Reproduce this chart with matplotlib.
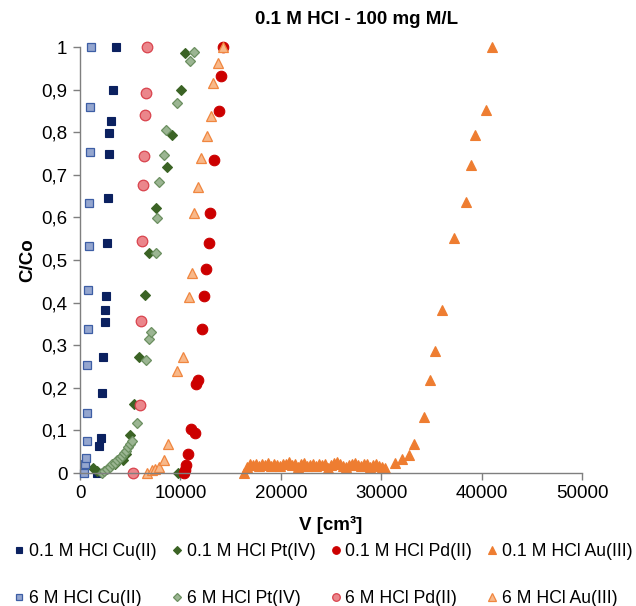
import matplotlib
matplotlib.use("Agg")
import matplotlib.pyplot as plt
from matplotlib.lines import Line2D

plt.rcParams['font.family'] = ['Liberation Sans', 'DejaVu Sans']

# ---------------- data ----------------
v_cu_01 = [1660, 1920, 2050, 2220, 2320, 2450, 2450, 2550, 2650, 2750, 2920, 2920, 3050, 3250, 3580]
c_cu_01 = [0, 0.063, 0.081, 0.187, 0.272, 0.355, 0.383, 0.415, 0.541, 0.646, 0.749, 0.797, 0.827, 0.90, 1.0]

v_pt_01 = [1330, 1700, 3500, 4300, 4600, 4950, 5400, 5900, 6490, 6890, 7550, 8710, 9210, 9770, 10040, 10440]
c_pt_01 = [0.011, 0.005, 0.022, 0.03, 0.045, 0.089, 0.161, 0.273, 0.417, 0.517, 0.621, 0.718, 0.793, 0.0, 0.90, 0.987]

v_pd_01 = [10370, 10440, 10600, 10770, 11100, 11450, 11600, 11770, 12160, 12330, 12590, 12820, 12990, 13320, 13850, 14080, 14250]
c_pd_01 = [0, 0.007, 0.019, 0.045, 0.104, 0.094, 0.21, 0.219, 0.338, 0.415, 0.48, 0.54, 0.61, 0.735, 0.85, 0.933, 1.0]

v_au_01 = [16330, 16600, 16900, 17200, 17500, 17800, 18100, 18400, 18700, 19000, 19300, 19600, 19900,
           20200, 20500, 20800, 21100, 21400, 21700, 22000, 22300, 22600, 22900, 23200, 23500, 23800,
           24100, 24400, 24700, 25000, 25300, 25600, 25900, 26200, 26500, 26800, 27100, 27400, 27700,
           28000, 28300, 28600, 28900, 29200, 29500, 29800, 30100, 30400,
           31400, 32080, 32800, 33300, 34230, 34890, 35390, 36050, 37270, 38440, 38970, 39370, 40460, 41080]
c_au_01 = [0.0, 0.015, 0.02, 0.018, 0.022, 0.016, 0.02, 0.019, 0.024, 0.017, 0.021, 0.018, 0.016,
           0.022, 0.02, 0.025, 0.018, 0.021, 0.015, 0.02, 0.023, 0.017, 0.019, 0.022, 0.016, 0.02,
           0.018, 0.021, 0.012, 0.019, 0.023, 0.026, 0.02, 0.017, 0.015, 0.019, 0.021, 0.024, 0.018,
           0.016, 0.02, 0.022, 0.014, 0.019, 0.021, 0.017, 0.015, 0.012,
           0.023, 0.032, 0.042, 0.068, 0.132, 0.218, 0.287, 0.383, 0.551, 0.637, 0.723, 0.793, 0.852, 1.0]

v_cu_6 = [400, 500, 600, 660, 660, 730, 830, 830, 930, 930, 1000, 1000, 1060]
c_cu_6 = [0, 0.02, 0.035, 0.076, 0.14, 0.253, 0.337, 0.43, 0.534, 0.633, 0.754, 0.86, 1.0]

v_pt_6 = [2150, 2400, 2700, 2950, 3200, 3450, 3700, 3950, 4150, 4350, 4550, 4750, 4950, 5150, 5700,
          5960, 6560, 6890, 7060, 7520, 7690, 7850, 8350, 8610, 9710, 11000, 11360]
c_pt_6 = [0.0, 0.005, 0.01, 0.015, 0.02, 0.024, 0.03, 0.035, 0.04, 0.047, 0.052, 0.06, 0.068, 0.076, 0.117,
          0.16, 0.265, 0.314, 0.332, 0.517, 0.598, 0.684, 0.746, 0.805, 0.868, 0.968, 0.988]

v_pd_6 = [5300, 5960, 6030, 6130, 6230, 6360, 6460, 6560, 6630]
c_pd_6 = [0, 0.16, 0.357, 0.545, 0.676, 0.744, 0.84, 0.893, 1.0]

v_au_6 = [6700, 7130, 7450, 7890, 8380, 8800, 9670, 10230, 10870, 11200, 11400, 11730, 12030, 12660, 13090, 13250, 13750, 14250]
c_au_6 = [0, 0.007, 0.01, 0.015, 0.03, 0.067, 0.24, 0.273, 0.412, 0.469, 0.61, 0.672, 0.74, 0.791, 0.838, 0.916, 0.962, 1.0]

labels = ["0.1 M HCl Cu(II)", "0.1 M HCl Pt(IV)", "0.1 M HCl Pd(II)", "0.1 M HCl Au(III)",
          "6 M HCl Cu(II)", "6 M HCl Pt(IV)", "6 M HCl Pd(II)", "6 M HCl Au(III)"]
y_ticks = [0, 0.1, 0.2, 0.3, 0.4, 0.5, 0.6, 0.7, 0.8, 0.9, 1.0]
y_tick_labels = ["0", "0,1", "0,2", "0,3", "0,4", "0,5", "0,6", "0,7", "0,8", "0,9", "1"]
x_ticks = [0, 10000, 20000, 30000, 40000, 50000]

# ---------------- styles ----------------
series = [
    (v_cu_01, c_cu_01, dict(marker='s', ms=6.2, mfc='#0b2160', mec='#0b2160', mew=0.8)),
    (v_pt_01, c_pt_01, dict(marker='D', ms=5.4, mfc='#3b6325', mec='#3b6325', mew=0.8)),
    (v_pd_01, c_pd_01, dict(marker='o', ms=7.6, mfc='#cc0000', mec='#cc0000', mew=0.8)),
    (v_au_01, c_au_01, dict(marker='^', ms=7.8, mfc='#ee7d31', mec='#ee7d31', mew=0.8)),
    (v_cu_6, c_cu_6, dict(marker='s', ms=6.2, mfc='#94a6cf', mec='#3d5ea5', mew=0.9)),
    (v_pt_6, c_pt_6, dict(marker='D', ms=5.4, mfc='#9bb592', mec='#6b8f60', mew=0.9)),
    (v_pd_6, c_pd_6, dict(marker='o', ms=7.6, mfc='#eb868b', mec='#d9434d', mew=0.9)),
    (v_au_6, c_au_6, dict(marker='^', ms=7.8, mfc='#f8b889', mec='#f0863f', mew=0.9)),
]

fig = plt.figure(figsize=(6.36, 6.06), dpi=100)
ax = fig.add_axes([80 / 636, 1 - 473 / 606, (582 - 80) / 636, (473 - 47) / 606])

for v, c, st in series:
    ax.plot(v, c, linestyle='none', clip_on=False, **st)

ax.set_xlim(0, 50000)
ax.set_ylim(0, 1)
ax.set_xticks(x_ticks)
ax.set_xticklabels([str(t) for t in x_ticks])
ax.set_yticks(y_ticks)
ax.set_yticklabels(y_tick_labels)

for s in ['top', 'right']:
    ax.spines[s].set_visible(False)
for s in ['left', 'bottom']:
    ax.spines[s].set_color('#7f7f7f')
    ax.spines[s].set_linewidth(1.0)
ax.tick_params(axis='both', direction='out', length=5, width=1, color='#7f7f7f',
               labelsize=13.5, labelcolor='black', pad=4)

ax.set_xlabel("V [cm³]", fontsize=13.5, fontweight='bold', labelpad=10)
ax.set_ylabel("C/Co", fontsize=13.5, fontweight='bold')
ax.yaxis.set_label_coords(-0.088, 0.5)

fig.text(357 / 636, 1 - 20 / 606, "0.1 M HCl - 100 mg M/L", fontsize=13.5, fontweight='bold',
         ha='center', va='center')

handles = []
for (v, c, st), lab in zip(series, labels):
    st2 = dict(st)
    st2['ms'] = st['ms'] * 0.72
    handles.append(Line2D([], [], linestyle='none', label=lab, **st2))

# order so that rows are 0.1 M and 6 M series
order = [0, 4, 1, 5, 2, 6, 3, 7]
fig.legend([handles[i] for i in order], [labels[i] for i in order],
           ncol=4, loc='upper left', bbox_to_anchor=(14 / 636, 1 - 543 / 606),
           frameon=False, fontsize=12.7, handlelength=0.6, handletextpad=0.25,
           columnspacing=0.85, labelspacing=1.7, borderpad=0, borderaxespad=0)

fig.savefig("out.png", dpi=100)
